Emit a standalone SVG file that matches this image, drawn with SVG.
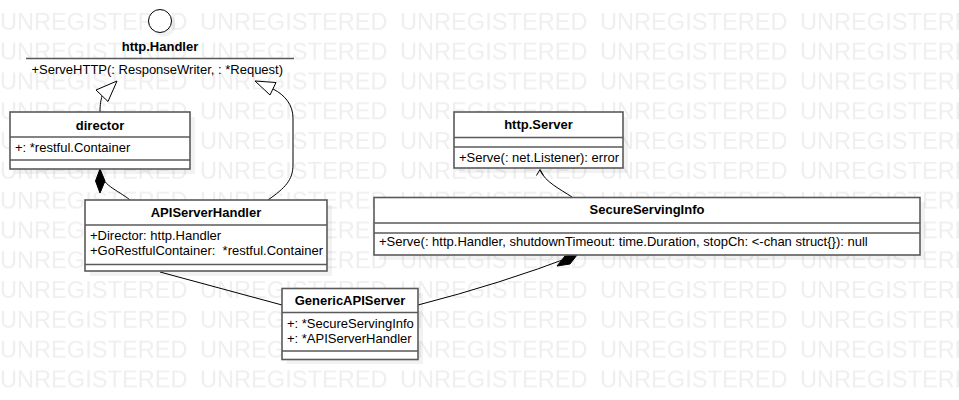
<svg xmlns="http://www.w3.org/2000/svg" width="959" height="400" viewBox="0 0 959 400">
<defs>
<style>
.wm{font-family:"Liberation Sans",Arial,sans-serif;font-size:23.6px;fill:#efefef}
.box{fill:#fff;stroke:#5a5a5a;stroke-width:1.6}
.sh{fill:#000;opacity:0.05}
.div{stroke:#5a5a5a;stroke-width:1.6}
.name{font-family:"Liberation Sans",Arial,sans-serif;font-size:13px;font-weight:bold;fill:#000;text-anchor:middle}
.t{font-family:"Liberation Sans",Arial,sans-serif;font-size:13px;fill:#000}
.ln{fill:none;stroke:#000;stroke-width:1}
.tri{fill:#fff;stroke:#000;stroke-width:1}
.dia{fill:#000;stroke:#000;stroke-width:1}
</style>
<pattern id="wmp" patternUnits="userSpaceOnUse" x="0" y="0" width="200" height="29.8">
<text class="wm" x="0" y="29.5">UNREGISTERED</text>
</pattern>
</defs>
<rect width="959" height="400" fill="#fff"/>
<rect id="watermark" width="959" height="400" fill="url(#wmp)"/>
<g id="connectors">
<path class="ln" d="M100,112 C100,104 101,100 102,96"/>
<polygon class="tri" points="117,81 96,90 108,101.5"/>
<path class="ln" d="M268,200 C285,188 293,180 293,165 L293,118 C293,105 285,95 273,89"/>
<polygon class="tri" points="255,81 276,82.5 270,95"/>
<path class="ln" d="M100,169 C100,185 118,190 130,200"/>
<polygon class="dia" points="100,169 105,181 100,193 95.5,181"/>
<path class="ln" d="M160,272 L282,305"/>
<path class="ln" d="M418,305 Q500,284 576,255"/>
<polygon class="dia" points="577,255 570,264 557,266 565,256"/>
<path class="ln" d="M572,197 C560,189 545,182 540,170"/>
<path class="ln" d="M536.5,175.5 L540,169.5 L543.5,175.5"/>
</g>
<g id="http-Handler">
<circle cx="164" cy="25" r="11.5" class="sh"/>
<circle cx="160" cy="21" r="11.5" fill="#fff" stroke="#000" stroke-width="1"/>
<text class="name" x="160" y="50.5">http.Handler</text>
<line x1="26" y1="58.5" x2="294" y2="58.5" class="div"/>
<text class="t" x="31.5" y="73.5">+ServeHTTP(: ResponseWriter, : *Request)</text>
</g>
<g id="director">
<rect class="sh" x="15" y="117" width="180" height="57"/>
<rect class="box" x="10" y="112" width="180" height="57"/>
<line class="div" x1="10" y1="137" x2="190" y2="137"/>
<line class="div" x1="10" y1="160" x2="190" y2="160"/>
<text class="name" x="100" y="129.5">director</text>
<text class="t" x="15" y="152">+: *restful.Container</text>
</g>
<g id="APIServerHandler">
<rect class="sh" x="90" y="205" width="242" height="71"/>
<rect class="box" x="85" y="200" width="242" height="71"/>
<line class="div" x1="85" y1="225" x2="327" y2="225"/>
<line class="div" x1="85" y1="264.5" x2="327" y2="264.5"/>
<text class="name" x="206" y="217">APIServerHandler</text>
<text class="t" x="90" y="240">+Director: http.Handler</text>
<text class="t" x="90" y="254.5" xml:space="preserve">+GoRestfulContainer:  *restful.Container</text>
</g>
<g id="GenericAPIServer">
<rect class="sh" x="287" y="293" width="136" height="71"/>
<rect class="box" x="282" y="288.5" width="136" height="71"/>
<line class="div" x1="282" y1="312.5" x2="418" y2="312.5"/>
<line class="div" x1="282" y1="351" x2="418" y2="351"/>
<text class="name" x="350" y="305">GenericAPIServer</text>
<text class="t" x="287" y="327.5">+: *SecureServingInfo</text>
<text class="t" x="287" y="343">+: *APIServerHandler</text>
</g>
<g id="http-Server">
<rect class="sh" x="459" y="117" width="169" height="56"/>
<rect class="box" x="454" y="112" width="169" height="56"/>
<line class="div" x1="454" y1="137.5" x2="623" y2="137.5"/>
<line class="div" x1="454" y1="147" x2="623" y2="147"/>
<text class="name" x="538.5" y="128.5">http.Server</text>
<text class="t" x="459" y="162">+Serve(: net.Listener): error</text>
</g>
<g id="SecureServingInfo">
<rect class="sh" x="379" y="202" width="546" height="58"/>
<rect class="box" x="374" y="197.5" width="546" height="57.5"/>
<line class="div" x1="374" y1="223" x2="920" y2="223"/>
<line class="div" x1="374" y1="233" x2="920" y2="233"/>
<text class="name" x="647" y="213.5">SecureServingInfo</text>
<text class="t" x="379" y="245.5">+Serve(: http.Handler, shutdownTimeout: time.Duration, stopCh: &lt;-chan struct{}): null</text>
</g>
</svg>
